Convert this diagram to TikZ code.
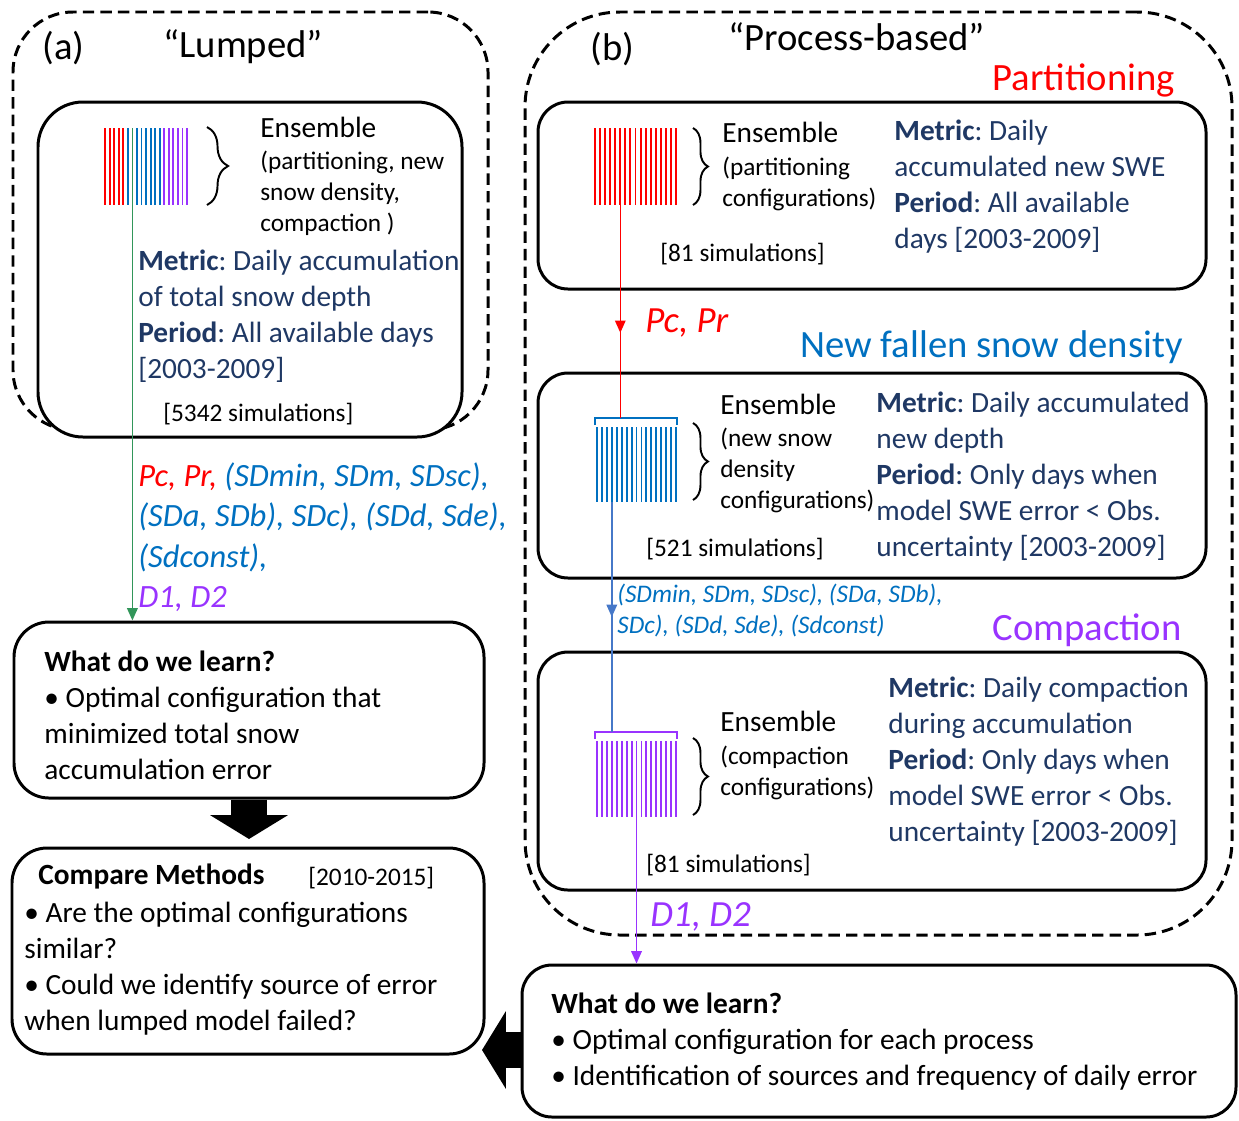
\documentclass[tikz,border=0pt]{standalone}
\usepackage{fontspec}
\setmainfont{Carlito}
\usetikzlibrary{arrows.meta,decorations.pathreplacing,decorations.markings,fit}
\frenchspacing

\definecolor{navy}{RGB}{31,56,100}
\definecolor{partred}{RGB}{255,0,0}
\definecolor{densblue}{RGB}{0,112,192}
\definecolor{comppurple}{RGB}{153,51,255}
\definecolor{lumpgreen}{RGB}{50,150,90}
\definecolor{linkblue}{RGB}{70,120,200}

\tikzset{
  box/.style={draw, fill=white, line width=1.7pt, rounded corners=0.6cm, inner sep=0pt},
  group/.style={draw, line width=1.7pt, dash pattern=on 6.5pt off 3.5pt, inner sep=0pt},
  txt/.style={anchor=base west, inner sep=0pt, align=left},
  fbig/.style={font=\fontsize{22}{26}\selectfont},
  fbody/.style={font=\fontsize{16.7}{20.4}\selectfont},
  fsmall/.style={font=\fontsize{14.4}{17.6}\selectfont},
  flabel/.style={font=\fontsize{18.5}{23}\selectfont\itshape},
  fflow/.style={font=\fontsize{21}{25}\selectfont\itshape},
  fan/.style={line width=1.1pt},
  curly/.style={decorate, decoration={brace, amplitude=#1}, line width=1.1pt},
  link/.style={line width=0.9pt, -{Triangle[length=7pt,width=6pt]}},
  midlink/.style={line width=0.9pt, postaction={decorate, decoration={markings,
      mark=at position #1 with {\arrow{Triangle[length=7pt,width=6pt]}}}}},
  bigarrow/.style={line width=20.4pt, -{Triangle[length=13.6pt,width=43.7pt]}}
}

\begin{document}
\begin{tikzpicture}[x=0.02cm, y=-0.02cm]
\useasboundingbox (0,0) rectangle (1239,1120);

\node[group, rounded corners=1.2cm, fit={(13,12) (488,430)}] (lumped) {};
\node[group, rounded corners=1.9cm, fit={(525,12) (1232,935)}] (process) {};

\node[box, rounded corners=0.9cm, fit={(38,102) (462,437)}] (ensA) {};
\node[box, rounded corners=0.7cm, fit={(14,622) (484,798)}] (learnA) {};
\node[box, rounded corners=0.7cm, fit={(12,848) (484,1054)}] (compare) {};
\node[box, fit={(538,102) (1206,289)}] (part) {};
\node[box, fit={(538,373) (1206,578)}] (dens) {};
\node[box, fit={(538,652) (1206,890)}] (comp) {};
\node[box, fit={(522,965) (1236,1117)}] (learnB) {};

\foreach \i in {0,...,4} \draw[fan, partred] (105+4.56*\i,128) -- ++(0,77);
\foreach \i in {5,7,8,...,12} \draw[fan, densblue] (105+4.56*\i,128) -- ++(0,77);
\foreach \i in {13,...,18} \draw[fan, comppurple] (105+4.56*\i,128) -- ++(0,77);
\coordinate (fanA) at (132.4,128);

\foreach \i in {0,...,16} \draw[fan, partred] (595+5.06*\i,128) -- ++(0,77);
\coordinate (fanP) at (620.3,205);

\draw[fan, densblue] (595,425) -- (595,418) -- (677,418) -- (677,425);
\foreach \i in {0,...,16} \draw[fan, densblue] (597+4.94*\i,427) -- ++(0,75);
\coordinate (barD) at (636,418);
\coordinate (fanD) at (611.8,502);

\draw[fan, comppurple] (595,739) -- (595,732) -- (677,732) -- (677,739);
\foreach \i in {0,...,16} \draw[fan, comppurple] (597+4.94*\i,741) -- ++(0,76);
\coordinate (barC) at (636,732);
\coordinate (fanC) at (636.5,817);

\draw[curly=12pt] (207,127) -- (207,205);
\draw[curly=8.5pt] (693,128) -- (693,205);
\draw[curly=8.5pt] (693,423) -- (693,500);
\draw[curly=8.5pt] (693,738) -- (693,815);

\draw[link, lumpgreen] (fanA) -- (fanA |- learnA.north);
\draw[midlink=0.6, partred] (fanP) -- (fanP |- barD);
\draw[midlink=0.5, linkblue] (fanD) -- (fanD |- barC);
\draw[link, comppurple] (fanC) -- (fanC |- learnB.north);

\coordinate (dtip) at (249,839);
\coordinate (ltip) at (482,1050);
\draw[bigarrow] (learnA.south) -- (dtip);
\draw[bigarrow] (learnB.west |- ltip) -- (ltip);

\node[txt, fbig] (tagA) at (42,59) {(a)};
\node[txt, fbig] (titleA) at (163,57) {“Lumped”};
\node[txt, fbody] (ensA1) at (260,137) {Ensemble};
\node[txt, fsmall] (ensA2) at (260,231) {(partitioning, new\\snow density,\\compaction )};
\node[txt, fbody, navy] (metA) at (138,378) {\textbf{Metric}: Daily accumulation\\of total snow depth\\\textbf{Period}: All available days\\{[2003-2009]}};
\node[txt, fsmall] (simA) at (163,421) {[5342 simulations]};
\node[txt, flabel, densblue] (parA) at (138,607.7) {{\color{partred}Pc, Pr,} (SDmin, SDm, SDsc),\\(SDa, SDb), SDc), (SDd, Sde),\\(Sdconst),\\{\color{comppurple}D1, D2}};

\node[txt, fbody] (learnAtxt) at (44,779) {\textbf{What do we learn?}\\\textbullet\ Optimal configuration that\\minimized total snow\\accumulation error};
\node[txt, fbody] (cmpTitle) at (38,884) {\textbf{Compare Methods}};
\node[txt, fsmall] (cmpYears) at (308,885) {[2010-2015]};
\node[txt, fbody] (cmpTxt) at (24,1030) {\textbullet\ Are the optimal configurations\\similar?\\\textbullet\ Could we identify source of error\\when lumped model failed?};

\node[txt, fbig] (tagB) at (590,60) {(b)};
\node[txt, fbig] (titleB) at (728,50) {“Process-based”};
\node[txt, fbig, partred, anchor=base east] (headP) at (1175,90) {Partitioning};
\node[txt, fbody] (ensP1) at (722,142) {Ensemble};
\node[txt, fsmall] (ensP2) at (722,206) {(partitioning\\configurations)};
\node[txt, fsmall] (simP) at (660,261) {[81 simulations]};
\node[txt, fbody, navy] (metP) at (894,248) {\textbf{Metric}: Daily\\accumulated new SWE\\\textbf{Period}: All available\\days [2003-2009]};
\node[txt, fflow, partred] (pcpr) at (645,332) {Pc, Pr};

\node[txt, fbig, densblue, anchor=base east] (headD) at (1183,357) {New fallen snow density};
\node[txt, fbody] (ensD1) at (720,414) {Ensemble};
\node[txt, fsmall] (ensD2) at (720,508) {(new snow\\density\\configurations)};
\node[txt, fsmall] (simD) at (646,556) {[521 simulations]};
\node[txt, fbody, navy] (metD) at (876,556) {\textbf{Metric}: Daily accumulated\\new depth\\\textbf{Period}: Only days when\\model SWE error < Obs.\\uncertainty [2003-2009]};
\node[txt, font=\fontsize{14.4}{17.6}\selectfont\itshape, densblue] (parD) at (617,633) {(SDmin, SDm, SDsc), (SDa, SDb),\\SDc), (SDd, Sde), (Sdconst)};

\node[txt, fbig, comppurple, anchor=base east] (headC) at (1182,640) {Compaction};
\node[txt, fbody] (ensC1) at (720,731) {Ensemble};
\node[txt, fsmall] (ensC2) at (720,795) {(compaction\\configurations)};
\node[txt, fsmall] (simC) at (646,872) {[81 simulations]};
\node[txt, fbody, navy] (metC) at (888,841) {\textbf{Metric}: Daily compaction\\during accumulation\\\textbf{Period}: Only days when\\model SWE error < Obs.\\uncertainty [2003-2009]};
\node[txt, fflow, comppurple] (dd) at (650,926) {D1, D2};

\node[txt, fbody] (learnBtxt) at (551,1085) {\textbf{What do we learn?}\\\textbullet\ Optimal configuration for each process\\\textbullet\ Identification of sources and frequency of daily error};
\end{tikzpicture}
\end{document}
